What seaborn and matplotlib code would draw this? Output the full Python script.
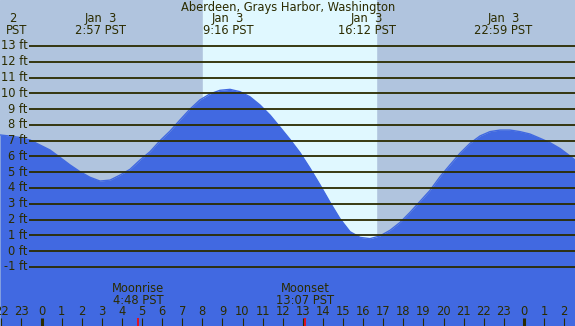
import numpy as np
import pandas as pd
import matplotlib
matplotlib.use("Agg")
import matplotlib.pyplot as plt
import seaborn as sns

# 조위 데이터 (시간: 1월 3일 0시 기준, 높이: ft) - 그림에서 읽은 값
hours = [-2.06, -1.57, -1.07, -0.57, -0.07, 0.42, 0.92, 1.42, 1.92, 2.41, 2.91, 3.41,
         3.91, 4.40, 4.90, 5.40, 5.90, 6.39, 6.89, 7.39, 7.88, 8.38, 8.88, 9.38, 9.88,
         10.37, 10.87, 11.37, 11.87, 12.36, 12.86, 13.36, 13.86, 14.35, 14.85, 15.35,
         15.85, 16.34, 16.84, 17.34, 17.84, 18.33, 18.83, 19.33, 19.83, 20.32, 20.82,
         21.32, 21.82, 22.31, 22.81, 23.31, 23.81, 24.30, 24.80, 25.30, 25.80, 26.29, 26.54]
heights = [7.36, 7.29, 7.20, 7.04, 6.72, 6.41, 5.94, 5.46, 5.03, 4.68, 4.44, 4.50,
           4.82, 5.18, 5.77, 6.30, 7.00, 7.60, 8.31, 9.00, 9.58, 9.96, 10.19, 10.25, 10.10,
           9.78, 9.26, 8.62, 7.85, 7.08, 6.24, 5.25, 4.19, 3.10, 2.05, 1.23,
           0.87, 0.79, 0.96, 1.32, 1.82, 2.45, 3.15, 3.85, 4.72, 5.46, 6.20,
           6.83, 7.30, 7.57, 7.67, 7.67, 7.57, 7.42, 7.15, 6.87, 6.50, 6.03, 5.77]

# 만조/간조 라벨
event_hours = [2.95, 9.27, 16.2, 22.98]
event_labels = ["Jan  3\n2:57 PST", "Jan  3\n9:16 PST", "Jan  3\n16:12 PST", "Jan  3\n22:59 PST"]

# 월출/월몰
moon_hours = [4.8, 13.117]
moon_labels = ["Moonrise\n4:48 PST", "Moonset\n13:07 PST"]

# 일출/일몰
sunrise, sunset = 8.035, 16.64

ft_levels = list(range(13, -2, -1))
hour_ticks = list(range(-2, 27))
midnights = [0, 24]

title = "Aberdeen, Grays Harbor, Washington"

# 픽셀 -> 데이터 변환
W, H = 575, 326
px_per_hr, x_zero = 20.1, 41.5
px_per_ft, y_zero = 15.78, 251.1

def hx(px):
    return (px - x_zero) / px_per_hr

def fy(py):
    return (y_zero - py) / px_per_ft

night = "#B0C4DE"
day = "#E0F8FF"
water = "#4169E1"
ink = "#2b2b00"

df = pd.DataFrame({"hour": hours, "ft": heights})

fig = plt.figure(figsize=(W / 100, H / 100), dpi=100)
ax = fig.add_axes([0, 0, 1, 1])
plt.rcParams['font.family'] = ['DejaVu Sans']
ax.set_xlim(hx(0), hx(W))
ax.set_ylim(fy(H), fy(0))
ax.axis("off")
ax.add_patch(plt.Rectangle((hx(0), fy(H)), hx(W) - hx(0), fy(0) - fy(H), color=night, zorder=0))

ax.axvspan(sunrise, sunset, color=day, zorder=1)
ax.fill_between(df["hour"], df["ft"], fy(H), color=water, zorder=2, lw=0)
sns.lineplot(data=df, x="hour", y="ft", color=water, lw=1, ax=ax, zorder=2)

# 수평선
ax.hlines(ft_levels, hx(29.3), hx(W), color=ink, lw=1.3, zorder=3)
fs = 8.3
for f in ft_levels:
    ax.text(hx(27.5), f, "%d ft" % f, ha="right", va="center", fontsize=fs, color=ink)

ax.text(hx(288), fy(7), title, ha="center", va="center", fontsize=fs, color=ink)
ax.text(hx(12.7), fy(18.5), "2", ha="center", va="center", fontsize=fs, color=ink)
ax.text(hx(16.7), fy(31), "PST", ha="center", va="center", fontsize=fs, color=ink)
for h, lab in zip(event_hours, event_labels):
    a, b = lab.split("\n")
    ax.text(h, fy(18.5), a, ha="center", va="center", fontsize=fs, color=ink)
    ax.text(h, fy(31), b, ha="center", va="center", fontsize=fs, color=ink)

for h, lab in zip(moon_hours, moon_labels):
    a, b = lab.split("\n")
    ax.text(h, fy(288), a, ha="center", va="center", fontsize=fs, color=ink)
    ax.text(h, fy(300), b, ha="center", va="center", fontsize=fs, color=ink)
    ax.vlines(h, fy(318), fy(H), color="red", lw=1.2, zorder=4)

for h in hour_ticks:
    ax.text(h, fy(311.5), str(h % 24), ha="center", va="center", fontsize=fs, color=ink)
    ax.vlines(h, fy(318), fy(H), color=ink, lw=2.2 if h in midnights else 0.8, zorder=4)

plt.savefig("out.png", dpi=100)
